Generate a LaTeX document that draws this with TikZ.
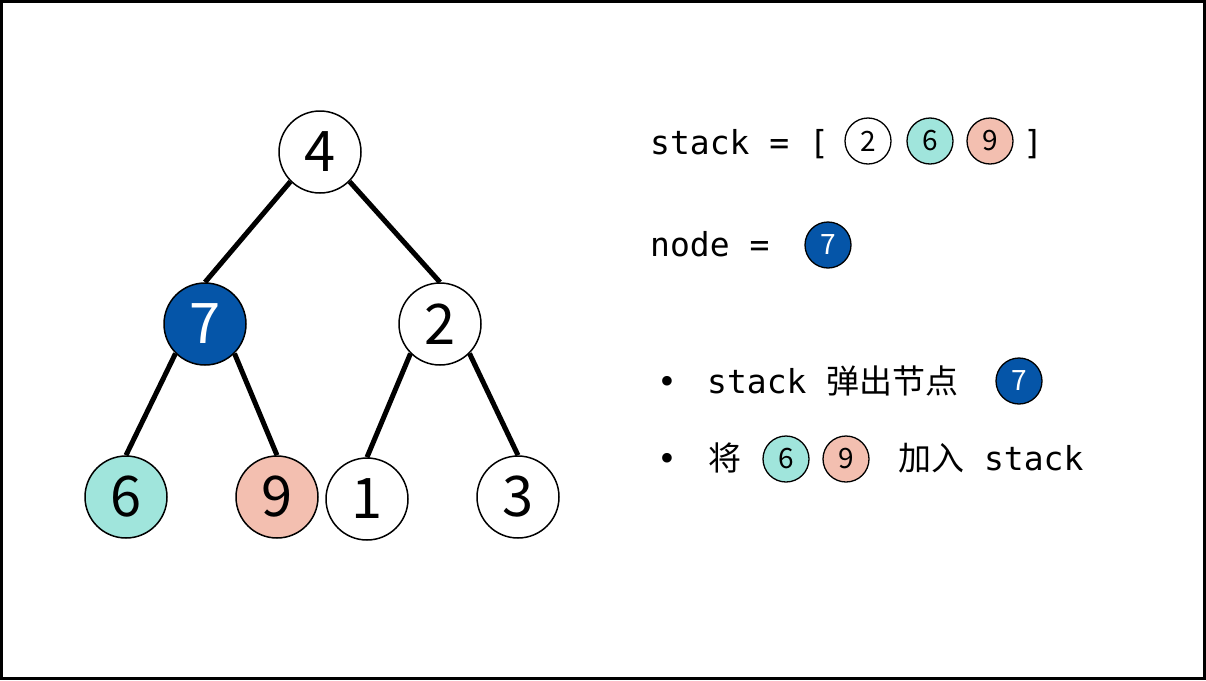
\documentclass[tikz,border=0pt]{standalone}
\usepackage{fontspec}
\setmonofont{DejaVu Sans Mono}
\newfontfamily\cjk{Noto Sans CJK SC}
\usepackage{xcolor}
\usetikzlibrary{positioning}
\definecolor{popblue}{HTML}{0555A8}
\definecolor{leftteal}{HTML}{A0E5DC}
\definecolor{rightsalmon}{HTML}{F3BFB0}

\begin{document}
\begin{tikzpicture}[x=1pt, y=-1pt,
    vtx/.style={circle, draw, line width=1.5pt, fill=white, minimum size=82pt, inner sep=0pt, font=\cjk\fontsize{56}{56}\selectfont},
    chip/.style={circle, draw, line width=1.3pt, fill=white, minimum size=46pt, inner sep=0pt, font=\cjk\fontsize{28}{28}\selectfont},
    txt/.style={anchor=base west, inner sep=0pt, font=\ttfamily\fontsize{33}{33}\selectfont},
    link/.style={line width=5pt}]
    \useasboundingbox (0,0) rectangle (1206,680);
    \draw[line width=3pt] (1.5,1.5) rectangle (1204.5,678.5);
    \node[vtx] (n4) at (320,152) {4};
    \node[vtx, fill=popblue, text=white] (n7) at (205,324) {7};
    \node[vtx] (n2) at (440,324) {2};
    \node[vtx, fill=leftteal] (n6) at (126,497) {6};
    \node[vtx, fill=rightsalmon] (n9) at (277,497) {9};
    \node[vtx] (n1) at (367,499) {1};
    \node[vtx] (n3) at (518,497) {3};
    \foreach \p/\c in {n4/n7, n7/n6, n2/n1}
      \draw[link] (\p.south west) -- (\c.north);
    \foreach \p/\c in {n4/n2, n7/n9, n2/n3}
      \draw[link] (\p.south east) -- (\c.north);
    \node[txt] (stacklbl) at (650,154) {stack = [};
    \node[chip] (s2) at (868,141) {2};
    \node[chip, fill=leftteal] (s6) at (930,141) {6};
    \node[chip, fill=rightsalmon] (s9) at (990,141) {9};
    \node[txt, anchor=base] (rbr) at (1033,154) {]};
    \node[txt] (nodelbl) at (650,256) {node =};
    \node[chip, fill=popblue, text=white] (cur7) at (828,245) {7};
    \node[txt, anchor=base] (dot1) at (667,393) {•};
    \node[txt] (pop) at (707,393) {stack {\cjk 弹出节点}};
    \node[chip, fill=popblue, text=white] (pop7) at (1019,381) {7};
    \node[txt, anchor=base] (dot2) at (667,470) {•};
    \node[txt, font=\cjk\fontsize{33}{33}\selectfont] (jiang) at (708,470) {将};
    \node[chip, fill=leftteal] (push6) at (786,459) {6};
    \node[chip, fill=rightsalmon] (push9) at (846,459) {9};
    \node[txt] (push) at (898,470) {{\cjk 加入} stack};
\end{tikzpicture}
\end{document}
